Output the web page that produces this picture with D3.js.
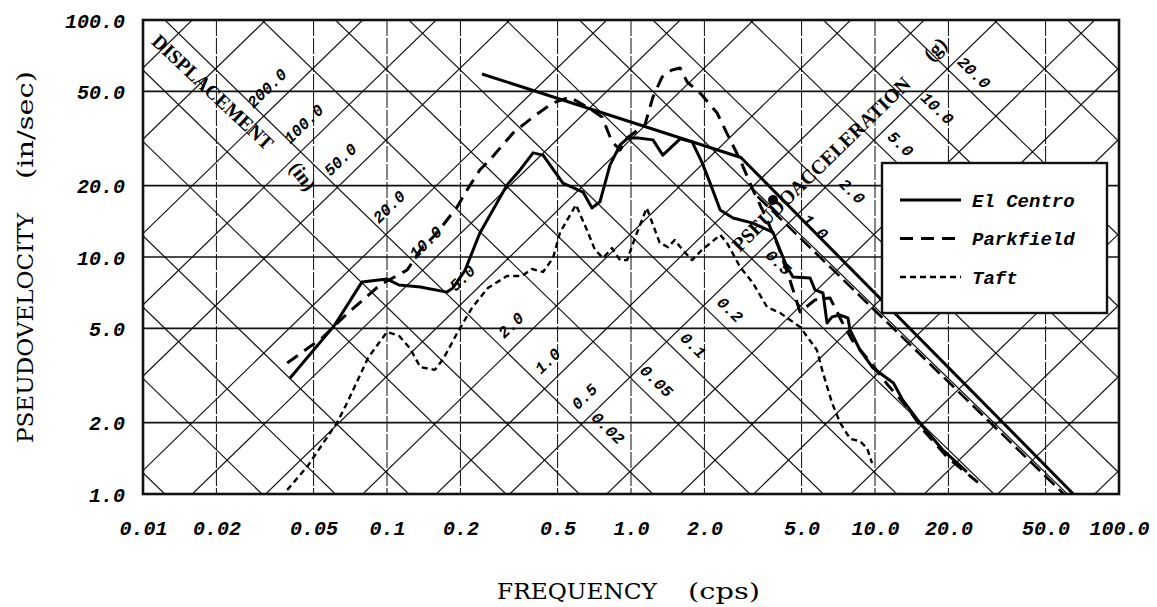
<!DOCTYPE html>
<html>
<head>
<meta charset="utf-8">
<script src="https://cdnjs.cloudflare.com/ajax/libs/d3/7.8.5/d3.min.js"></script>
<style>
  body { margin: 0; background: #fff; }
  svg { display: block; }
</style>
</head>
<body>
<div id="chart"></div>
<script>
// ticks
const freqTicks = [0.01, 0.02, 0.05, 0.1, 0.2, 0.5, 1, 2, 5, 10, 20, 50, 100];
const freqLabels = ["0.01", "0.02", "0.05", "0.1", "0.2", "0.5", "1.0", "2.0", "5.0", "10.0", "20.0", "50.0", "100.0"];
const velTicks = [1, 2, 5, 10, 20, 50, 100];
const velLabels = ["1.0", "2.0", "5.0", "10.0", "20.0", "50.0", "100.0"];
const dispLabels = [200, 100, 50, 20, 10, 5, 2, 1, 0.5];
const accLabels = [20, 10, 5, 2, 1, 0.5, 0.2, 0.1, 0.05, 0.02];
const gridSteps = [1, 2, 5];
const G = 386; // in/s^2

// spectra [frequency cps, pseudovelocity in/sec]
const elCentro = [[0.040,3.08],[0.061,5.16],[0.079,7.85],[0.100,8.07],[0.112,7.62],[0.137,7.47],[0.176,7.11],[0.186,7.39],
  [0.209,8.81],[0.240,12.6],[0.310,20.1],[0.351,23.3],[0.397,27.5],[0.436,26.9],[0.526,20.5],[0.636,18.8],[0.692,16.1],
  [0.746,17.1],[0.820,24.4],[0.902,29.7],[0.972,31.8],[1.07,31.8],[1.23,31.2],[1.35,26.9],[1.59,31.5],[1.78,30.6],
  [1.95,25.2],[2.11,20.5],[2.32,15.8],[2.62,14.6],[3.16,13.9],[3.82,12.7],[4.08,10.7],[4.36,9.07],[4.61,8.24],[5.42,8.15],
  [5.68,7.26],[6.12,7.05],[6.36,5.27],[6.67,5.59],[7.19,5.69],[7.75,5.53],[7.90,4.92],[8.68,4.05],[9.82,3.40],[11.9,2.94],
  [13.0,2.49],[15.3,1.99],[19.0,1.53],[23.8,1.24]];
const parkfield = [[0.039,3.57],[0.0547,4.59],[0.0692,5.81],[0.0936,7.62],[0.121,8.81],[0.137,10.7],[0.160,12.6],[0.194,16.3],
  [0.213,19.2],[0.240,23.3],[0.264,25.7],[0.328,33.3],[0.397,39.0],[0.479,44.7],[0.562,47.3],[0.660,42.9],[0.761,39.0],
  [0.836,30.6],[0.902,28.3],[0.964,31.8],[1.14,36.1],[1.23,47.3],[1.34,57.4],[1.47,61.5],[1.59,62.7],[1.70,54.7],[1.92,49.2],
  [2.25,40.6],[2.47,33.3],[2.80,25.7],[3.16,19.2],[3.54,15.0],[4.00,11.2],[4.48,8.0],[4.93,5.86],[5.68,6.59],[6.54,6.72],
  [7.33,5.32],[8.05,4.47],[9.55,3.61],[11.3,2.88],[13.3,2.38],[16.0,1.83],[19.9,1.42],[26.4,1.12]];
const taft = [[0.039,1.04],[0.0475,1.32],[0.0624,2.0],[0.0686,2.42],[0.0836,3.75],[0.100,4.83],[0.112,4.65],[0.124,4.13],
  [0.137,3.43],[0.157,3.34],[0.170,3.71],[0.195,4.83],[0.223,6.10],[0.259,7.40],[0.310,8.31],[0.357,8.31],[0.393,8.90],
  [0.436,8.65],[0.479,9.9],[0.512,12.7],[0.595,16.6],[0.660,13.0],[0.712,10.7],[0.768,9.9],[0.836,10.9],[0.902,9.7],
  [0.964,9.7],[1.04,12.1],[1.16,16.1],[1.31,11.5],[1.42,11.0],[1.51,11.8],[1.63,10.7],[1.78,9.7],[1.95,10.7],[2.15,11.6],
  [2.32,12.4],[2.47,11.5],[2.80,9.07],[3.16,7.77],[3.61,6.15],[4.08,5.81],[4.93,5.07],[5.78,4.05],[6.12,3.24],[6.67,2.42],
  [7.19,2.0],[7.90,1.71],[8.68,1.67],[9.28,1.56],[9.72,1.35]];
// design lines
const envelopeSolid = [[0.245,59.2],[2.82,26.3],[65,1.0]];
const envelopeDashed = [[3.3,18.0],[59.4,1.0]];
const markers = [[3.82,17.4]];

const seriesNames = ["El Centro", "Parkfield", "Taft"];

const W = 1157, H = 607;
const svg = d3.select("#chart").append("svg").attr("width", W).attr("height", H);

const x = d3.scaleLog().domain([0.01, 100]).range([143, 1119]);
const y = d3.scaleLog().domain([1, 100]).range([494, 20]);
const [x0, x1] = x.range(), [y1, y0] = y.range();

svg.append("clipPath").attr("id", "plot")
  .append("rect").attr("x", x0).attr("y", y0).attr("width", x1 - x0).attr("height", y1 - y0);

const grid = svg.append("g").attr("clip-path", "url(#plot)");

// vertical grid
grid.selectAll(".vg").data(freqTicks).enter().append("line")
  .attr("x1", d => x(d)).attr("x2", d => x(d)).attr("y1", y0).attr("y2", y1)
  .attr("stroke", "#222").attr("stroke-width", 1.1).attr("stroke-dasharray", "16,2");
// horizontal grid
grid.selectAll(".hg").data(velTicks).enter().append("line")
  .attr("y1", d => y(d)).attr("y2", d => y(d)).attr("x1", x0).attr("x2", x1)
  .attr("stroke", "#111").attr("stroke-width", 1.6);

// diagonal grid: constant displacement (V = 2 pi f D) and constant acceleration (V = A g / (2 pi f))
const decades = d3.range(-4, 5);
const values = decades.flatMap(k => gridSteps.map(s => s * Math.pow(10, k)));
const fa = 0.001, fb = 1000;
values.forEach(D => {
  grid.append("line")
    .attr("x1", x(fa)).attr("y1", y(2 * Math.PI * fa * D))
    .attr("x2", x(fb)).attr("y2", y(2 * Math.PI * fb * D))
    .attr("stroke", "#111").attr("stroke-width", 1.2);
});
values.forEach(A => {
  grid.append("line")
    .attr("x1", x(fa)).attr("y1", y(A * G / (2 * Math.PI * fa)))
    .attr("x2", x(fb)).attr("y2", y(A * G / (2 * Math.PI * fb)))
    .attr("stroke", "#111").attr("stroke-width", 1.2);
});

// border
svg.append("rect").attr("x", x0).attr("y", y0).attr("width", x1 - x0).attr("height", y1 - y0)
  .attr("fill", "none").attr("stroke", "#111").attr("stroke-width", 2.6);

const angle = Math.atan((y(1) - y(10)) / (x(10) - x(1))) * 180 / Math.PI;
const monoFont = "'Liberation Mono', 'DejaVu Sans Mono', monospace";
const serifFont = "'Liberation Serif', 'DejaVu Serif', serif";
const titleFont = "'DejaVu Serif', 'Liberation Serif', serif";

// diagonal scale labels
dispLabels.forEach(d => {
  const D = 1.25 * d, A = 0.027;
  const V = Math.sqrt(A * G * D), f = V / (2 * Math.PI * D);
  svg.append("text").attr("transform", `translate(${x(f)},${y(V)}) rotate(${-angle})`)
    .attr("text-anchor", "middle").attr("dominant-baseline", "central")
    .style("font-family", monoFont).style("font-style", "italic").style("font-weight", "bold")
    .style("font-size", "16px").text(d.toFixed(1));
});
accLabels.forEach(a => {
  const A = 1.22 * a, D = 0.375;
  const V = Math.sqrt(A * G * D), f = V / (2 * Math.PI * D);
  svg.append("text").attr("transform", `translate(${x(f)},${y(V)}) rotate(${angle})`)
    .attr("text-anchor", "middle").attr("dominant-baseline", "central")
    .style("font-family", monoFont).style("font-style", "italic").style("font-weight", "bold")
    .style("font-size", "16px").text(a >= 0.1 ? a.toFixed(1) : String(a));
});

// family names
function diagText(cx, cy, rot, str, size, len) {
  const t = svg.append("text").attr("transform", `translate(${cx},${cy}) rotate(${rot})`)
    .attr("text-anchor", "middle").attr("dominant-baseline", "central")
    .style("font-family", serifFont).style("font-size", size + "px").style("font-weight", "bold")
    .text(str);
  if (len) t.attr("textLength", len).attr("lengthAdjust", "spacingAndGlyphs");
}
diagText(213, 92, angle - 1, "DISPLACEMENT", 20, 158);
diagText(303, 176, angle + 8, "(in)", 20);
diagText(821, 164, -angle, "PSEUDOACCELERATION", 20, 240);
diagText(935, 49, -angle, "(g)", 20);

// curves
const line = d3.line().x(d => x(d[0])).y(d => y(d[1]));
const curves = svg.append("g").attr("clip-path", "url(#plot)").attr("fill", "none").attr("stroke", "#000")
  .attr("stroke-linejoin", "round");
curves.append("path").datum(envelopeSolid).attr("d", line).attr("stroke-width", 3);
curves.append("path").datum(envelopeDashed).attr("d", line).attr("stroke-width", 2.6).attr("stroke-dasharray", "14,6");
curves.append("path").datum(taft).attr("d", line).attr("stroke-width", 2.4).attr("stroke-dasharray", "6,4");
curves.append("path").datum(parkfield).attr("d", line).attr("stroke-width", 3).attr("stroke-dasharray", "13,8");
curves.append("path").datum(elCentro).attr("d", line).attr("stroke-width", 3);
svg.selectAll(".mk").data(markers).enter().append("circle")
  .attr("cx", d => x(d[0])).attr("cy", d => y(d[1])).attr("r", 5).attr("fill", "#000");

// axes
const xAxis = svg.append("g").attr("transform", `translate(0,${y1 + 24})`)
  .call(d3.axisBottom(x).tickValues(freqTicks).tickFormat((d, i) => freqLabels[i]).tickSize(0));
const yAxis = svg.append("g").attr("transform", `translate(${x0 - 15},0)`)
  .call(d3.axisLeft(y).tickValues(velTicks).tickFormat((d, i) => velLabels[i]).tickSize(0));
[xAxis, yAxis].forEach(a => {
  a.select(".domain").remove();
  a.selectAll("text").style("font-family", monoFont).style("font-style", "italic")
    .style("font-weight", "bold").style("font-size", "20px").attr("fill", "#000");
});
yAxis.selectAll("text").attr("dy", "0.35em");

// titles
function title(tr, str, len) {
  svg.append("text").attr("transform", tr).attr("text-anchor", "middle")
    .style("font-family", titleFont).style("font-size", "23px")
    .attr("textLength", len).attr("lengthAdjust", "spacingAndGlyphs").text(str);
}
title("translate(577,599)", "FREQUENCY", 160);
title("translate(724,599)", "(cps)", 72);
title("translate(33,328) rotate(-90)", "PSEUDOVELOCITY", 230);
title("translate(33,125) rotate(-90)", "(in/sec)", 108);

// legend
const lg = svg.append("g");
lg.append("rect").attr("x", 882).attr("y", 163).attr("width", 225).attr("height", 150)
  .attr("fill", "#fff").attr("stroke", "#111").attr("stroke-width", 2.4);
const legendStyles = [
  { dash: null, w: 3 },
  { dash: "13,8", w: 3 },
  { dash: "6,4", w: 2.4 }
];
seriesNames.forEach((name, i) => {
  const yy = 200 + i * 38.5;
  lg.append("line").attr("x1", 900).attr("x2", 961).attr("y1", yy).attr("y2", yy)
    .attr("stroke", "#000").attr("stroke-width", legendStyles[i].w)
    .attr("stroke-dasharray", legendStyles[i].dash);
  lg.append("text").attr("x", 972).attr("y", yy).attr("dy", "0.35em")
    .style("font-family", monoFont).style("font-style", "italic").style("font-weight", "bold")
    .style("font-size", "19px").text(name);
});
</script>
</body>
</html>
